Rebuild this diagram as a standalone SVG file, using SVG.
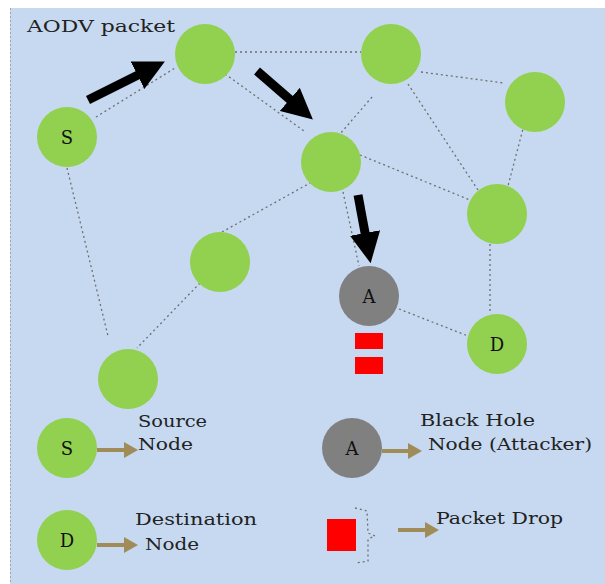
<svg xmlns="http://www.w3.org/2000/svg" width="605" height="584" viewBox="0 0 605 584">
<style>
.bg{fill:#c6d9f0}
.g{fill:#92d050}
.k{fill:#808080}
.dot{fill:none;stroke:#6f6f6f;stroke-width:1.3;stroke-dasharray:2 3}
.big{stroke:#000;stroke-width:9;fill:none;marker-end:url(#bh)}
.leg{stroke:#a08c58;stroke-width:4;fill:none;marker-end:url(#lh)}
.nl{font-family:"DejaVu Serif","Liberation Serif",serif;font-size:18px;fill:#111;text-anchor:middle;dominant-baseline:central}
.t{font-family:"DejaVu Serif","Liberation Serif",serif;font-size:16px;fill:#222}
.red{fill:#ff0000}
</style>
<defs>
<marker id="bh" markerWidth="3.4" markerHeight="3.4" refX="1.8" refY="1.7" orient="auto" markerUnits="strokeWidth">
<path d="M0,0 L3.4,1.7 L0,3.4 Z" fill="#000"/>
</marker>
<marker id="lh" markerWidth="3.5" markerHeight="4" refX="2" refY="2" orient="auto" markerUnits="strokeWidth">
<path d="M0,0 L3.5,2 L0,4 Z" fill="#a08c58"/>
</marker>
</defs>
<rect class="bg" x="10" y="8" width="595" height="576"/>
<line x1="10.5" y1="8" x2="10.5" y2="584" stroke="#9aa6b8" stroke-width="1" stroke-dasharray="2 2"/>
<text class="t" x="27" y="32" textLength="148" lengthAdjust="spacingAndGlyphs">AODV packet</text>
<g id="connectors">
<line class="dot" x1="235" y1="52" x2="361" y2="52"/>
<line class="dot" x1="96" y1="117" x2="175" y2="68"/>
<line class="dot" x1="221" y1="71" x2="304" y2="131"/>
<line class="dot" x1="372" y1="97" x2="340" y2="134"/>
<line class="dot" x1="408" y1="84" x2="478" y2="190"/>
<line class="dot" x1="421" y1="72" x2="504" y2="83"/>
<line class="dot" x1="524" y1="125" x2="508" y2="186"/>
<line class="dot" x1="360" y1="155" x2="470" y2="200"/>
<line class="dot" x1="490" y1="244" x2="490" y2="314"/>
<line class="dot" x1="399" y1="309" x2="468" y2="336"/>
<line class="dot" x1="343" y1="192" x2="359" y2="266"/>
<line class="dot" x1="67" y1="168" x2="108" y2="336"/>
<line class="dot" x1="222" y1="232" x2="310" y2="183"/>
<line class="dot" x1="200" y1="283" x2="137" y2="348"/>
<line class="big" x1="88" y1="100" x2="152" y2="68"/>
<line class="big" x1="257" y1="71" x2="302" y2="110"/>
<line class="big" x1="358" y1="195" x2="368" y2="249"/>
</g>
<g id="n1"><circle class="g" cx="205" cy="54" r="30"/></g>
<g id="s"><circle class="g" cx="67" cy="137" r="30"/><text class="nl" x="67" y="137">S</text></g>
<g id="n2"><circle class="g" cx="391" cy="54" r="30"/></g>
<g id="n3"><circle class="g" cx="535" cy="102" r="30"/></g>
<g id="n4"><circle class="g" cx="331" cy="162" r="30"/></g>
<g id="n5"><circle class="g" cx="497" cy="214" r="30"/></g>
<g id="a"><circle class="k" cx="369" cy="296" r="30"/><text class="nl" x="369" y="296">A</text></g>
<g id="d"><circle class="g" cx="497" cy="344" r="30"/><text class="nl" x="497" y="344">D</text></g>
<g id="n6"><circle class="g" cx="220" cy="262" r="30"/></g>
<g id="n7"><circle class="g" cx="128" cy="379" r="30"/></g>
<g id="drop">
<rect class="red" x="355" y="333" width="28" height="16"/>
<rect class="red" x="355" y="357" width="28" height="17"/>
</g>
<g id="legend">
<g id="leg-s"><circle class="g" cx="67" cy="448" r="30"/><text class="nl" x="67" y="448">S</text>
<line class="leg" x1="97" y1="450" x2="132" y2="450"/>
<text class="t" x="138" y="427" textLength="69" lengthAdjust="spacingAndGlyphs">Source</text>
<text class="t" x="138" y="450" textLength="55" lengthAdjust="spacingAndGlyphs">Node</text></g>
<g id="leg-d"><circle class="g" cx="67" cy="540" r="30"/><text class="nl" x="67" y="540">D</text>
<line class="leg" x1="97" y1="545" x2="132" y2="545"/>
<text class="t" x="135" y="525" textLength="122" lengthAdjust="spacingAndGlyphs">Destination</text>
<text class="t" x="145" y="550" textLength="54" lengthAdjust="spacingAndGlyphs">Node</text></g>
<g id="leg-a"><circle class="k" cx="352" cy="448" r="30"/><text class="nl" x="352" y="448">A</text>
<line class="leg" x1="382" y1="451" x2="416" y2="451"/>
<text class="t" x="420" y="426" textLength="115" lengthAdjust="spacingAndGlyphs">Black Hole</text>
<text class="t" x="428" y="450" textLength="164" lengthAdjust="spacingAndGlyphs">Node (Attacker)</text></g>
<g id="leg-drop"><rect class="red" x="327" y="519" width="29" height="32"/>
<path class="dot" d="M355,508 L367,511 L368,533 L375,536 L368,539 L368,561 L356,563"/>
<line class="leg" x1="398" y1="530" x2="433" y2="530"/>
<text class="t" x="436" y="524" textLength="127" lengthAdjust="spacingAndGlyphs">Packet Drop</text></g>
</g>
</svg>
